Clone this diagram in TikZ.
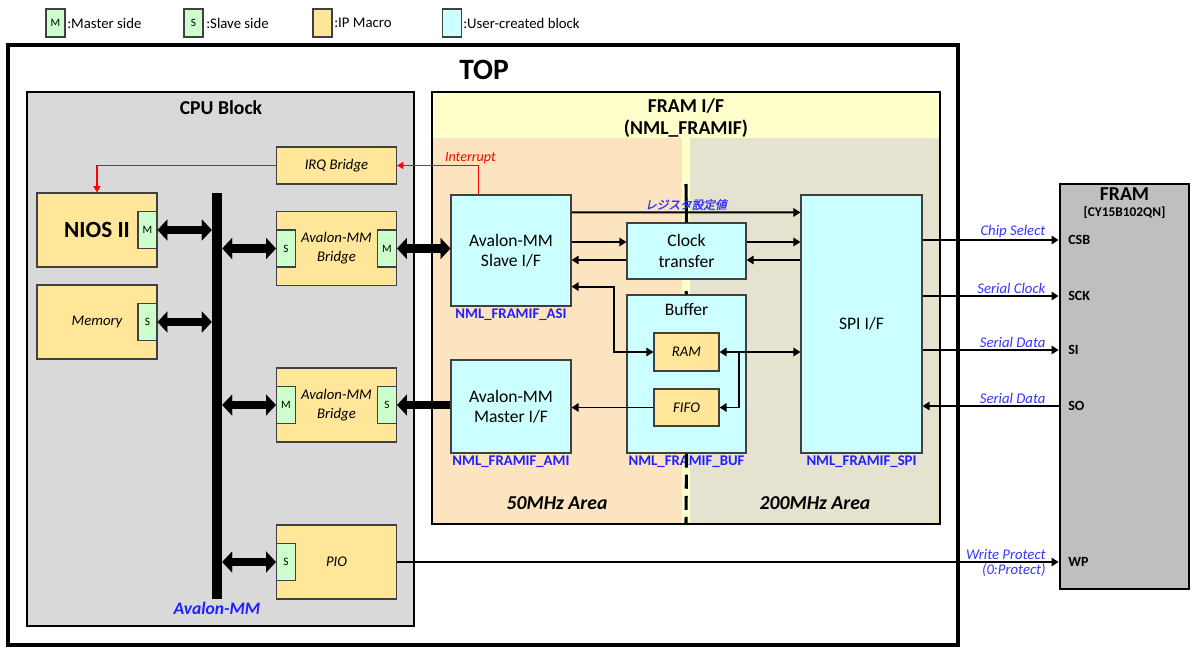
\documentclass[tikz,border=0pt]{standalone}
\usepackage{fontspec}
\setmainfont{Carlito}
\newfontfamily\cjk[FakeSlant=0.2,FakeBold=1.8]{Noto Sans CJK JP}
\usepackage{tikz}
\usetikzlibrary{arrows.meta}

\definecolor{ipcol}{HTML}{FFE699}
\definecolor{usercol}{HTML}{CCFFFF}
\definecolor{portcol}{HTML}{CCFFCC}
\definecolor{cpucol}{HTML}{D9D9D9}
\definecolor{framifcol}{HTML}{FFFFCC}
\definecolor{slowcol}{HTML}{FDE4C0}
\definecolor{fastcol}{HTML}{E5E2D0}
\definecolor{chipcol}{HTML}{BFBFBF}
\definecolor{namecol}{HTML}{1F1FFF}
\definecolor{sigcol}{HTML}{3535FF}
\definecolor{boxline}{HTML}{404040}
\newcommand{\fsz}[2]{\fontsize{#1}{#2}\selectfont}

\begin{document}
\begin{tikzpicture}[x=0.025cm,y=-0.025cm,>={Triangle[length=5pt,width=6pt]},
	ip block/.style={draw=boxline,line width=0.8pt,fill=ipcol,inner sep=0pt,font=\fsz{10.5}{13.5}\itshape,align=center},
	user block/.style={draw=boxline,line width=0.8pt,fill=usercol,inner sep=0pt,font=\fsz{12.5}{14.5},align=center},
	port/.style={draw=boxline,line width=0.8pt,fill=portcol,inner sep=0pt,minimum width=0.475cm,minimum height=0.925cm,font=\fsz{8}{9}},
	key text/.style={anchor=west,inner sep=0pt,font=\fsz{10.5}{12}},
	mod name/.style={anchor=north,inner sep=1.5pt,font=\fsz{10.5}{12}\bfseries,text=namecol},
	title/.style={align=center,font=\fsz{14}{15.6}\bfseries},
	area/.style={font=\fsz{14}{16}\bfseries\itshape},
	container/.style={draw=black,line width=1.8pt},
	divider/.style={line width=2.2pt},
	sig/.style={line width=1.4pt},
	sig label/.style={pos=1,xshift=-0.27cm,inner sep=1pt,font=\fsz{10.5}{12}\itshape,text=sigcol},
	bus arrow/.style={line width=6pt,{Triangle[length=7pt,width=15pt,line width=0.1pt]}-{Triangle[length=7pt,width=15pt,line width=0.1pt]}},
	bus line/.style={line width=6pt,-{Triangle[length=7pt,width=15pt,line width=0.1pt]}},
	irq/.style={red,line width=1pt,-{Triangle[length=4.5pt,width=5pt]}},
	pin/.style={anchor=west,inner sep=0pt,font=\fsz{10}{12}\bfseries}]

	\useasboundingbox (0,0) rectangle (1200,656);

	\node[port,minimum height=0.7cm] (keyM) at (55.5,23) {M};
	\node[key text] (keyMtxt) at (67,23) {:Master side};
	\node[port,minimum height=0.7cm] (keyS) at (193.5,23) {S};
	\node[key text] (keyStxt) at (206,23) {:Slave side};
	\node[ip block,minimum width=0.475cm,minimum height=0.7cm] (keyIP) at (322.5,23) {};
	\node[key text] (keyIPtxt) at (334,23) {:IP Macro};
	\node[user block,minimum width=0.475cm,minimum height=0.7cm] (keyUser) at (452,23) {};
	\node[key text] (keyUsertxt) at (463,23) {:User-created block};

	\draw[container,line width=2.8pt] (8,45) rectangle (958,645);
	\node[font=\fsz{21}{24}\bfseries] (top) at (484,70) {TOP};

	\draw[container,fill=cpucol] (27,92) rectangle (414,626);
	\node[title] (cpu) at (221,108) {CPU Block};

	\fill[framifcol] (432,92) rectangle (940,524);
	\fill[slowcol] (433,138) rectangle (682,523);
	\fill[fastcol] (690,138) rectangle (939,523);
	\draw[container] (432,92) rectangle (940,524);
	\node[title] (framif) at (686,118) {FRAM I/F\\(NML\_FRAMIF)};
	\node[area] (slow) at (557,503) {50MHz Area};
	\node[area] (fast) at (815,503) {200MHz Area};

	\node[ip block,minimum width=3cm,minimum height=0.925cm] (irqb) at (336.5,165.5) {IRQ Bridge};
	\node[ip block,minimum width=3cm,minimum height=1.85cm,font=\fsz{16.5}{18}\bfseries] (nios) at (97,230) {NIOS II};
	\node[port,anchor=east] (niosM) at (nios.east) {M};
	\node[ip block,minimum width=3cm,minimum height=1.85cm] (mem) at (97,322) {Memory};
	\node[port,anchor=east] (memS) at (mem.east) {S};
	\node[ip block,minimum width=3cm,minimum height=1.85cm] (br1) at (336.5,248.5) {Avalon-MM\\Bridge};
	\node[port,anchor=west] (br1S) at (br1.west) {S};
	\node[port,anchor=east] (br1M) at (br1.east) {M};
	\node[ip block,minimum width=3cm,minimum height=1.85cm] (br2) at (336.5,405) {Avalon-MM\\Bridge};
	\node[port,anchor=west] (br2M) at (br2.west) {M};
	\node[port,anchor=east] (br2S) at (br2.east) {S};
	\node[ip block,minimum width=3cm,minimum height=1.85cm] (pio) at (336.5,562) {PIO};
	\node[port,anchor=west] (pioS) at (pio.west) {S};
	\node[fill=black,inner sep=0pt,minimum width=0.25cm,minimum height=10.15cm] (bus) at (217,396) {};
	\node[anchor=north,inner sep=2pt,font=\fsz{12.5}{14}\bfseries\itshape,text=namecol] (buslbl) at (bus.south) {Avalon-MM};

	\node[user block,minimum width=3cm,minimum height=2.775cm] (asi) at (511,250.5) {Avalon-MM\\Slave I/F};
	\node[mod name] (asiname) at (asi.south) {NML\_FRAMIF\_ASI};
	\node[user block,minimum width=3cm,minimum height=2.325cm] (ami) at (511,406.5) {Avalon-MM\\Master I/F};
	\node[mod name] (aminame) at (ami.south) {NML\_FRAMIF\_AMI};
	\node[user block,minimum width=2.975cm,minimum height=1.4cm] (clk) at (686.5,251) {Clock\\transfer};
	\node[user block,minimum width=2.975cm,minimum height=3.95cm] (buf) at (686.5,374) {};
	\node[font=\fsz{12.5}{14.5}] (buftitle) at ([yshift=-0.375cm]buf.north) {Buffer};
	\node[mod name] (bufname) at (buf.south) {NML\_FRAMIF\_BUF};
	\node[ip block,minimum width=1.625cm,minimum height=0.95cm] (ram) at (686.5,352) {RAM};
	\node[ip block,minimum width=1.625cm,minimum height=0.925cm] (fifo) at (686.5,407.5) {FIFO};
	\node[user block,minimum width=3.025cm,minimum height=6.45cm] (spi) at (861.5,324) {SPI I/F};
	\node[mod name] (spiname) at (spi.south) {NML\_FRAMIF\_SPI};

	\draw[divider] (686,184) -- (clk.north);
	\draw[divider] (686,291) -- (buf.north);
	\draw[divider,dash pattern=on 10pt off 5pt] (buf.south) -- (686,524);

	\node[draw=black,line width=2pt,fill=chipcol,minimum width=3.225cm,minimum height=10.125cm] (fram) at (1124.5,386.5) {};
	\node[title] (framtitle) at ([yshift=-0.3cm]fram.north) {FRAM};
	\node[font=\fsz{9.5}{11}\bfseries] (framtype) at ([yshift=-0.75cm]fram.north) {[CY15B102QN]};
	\node[pin] (csb) at (1068,240) {CSB};
	\node[pin] (sck) at (1068,296) {SCK};
	\node[pin] (si) at (1068,350) {SI};
	\node[pin] (so) at (1068,406) {SO};
	\node[pin] (wp) at (1068,562) {WP};

	\draw[bus arrow] (niosM.east) -- (bus.west |- niosM.east);
	\draw[bus arrow] (memS.east) -- (bus.west |- memS.east);
	\draw[bus arrow] (bus.east |- br1S.west) -- (br1S.west);
	\draw[bus arrow] (bus.east |- br2M.west) -- (br2M.west);
	\draw[bus arrow] (bus.east |- pioS.west) -- (pioS.west);
	\draw[bus arrow] (br1M.east) -- (asi.west |- br1M.east);
	\draw[bus line] (ami.west |- br2S.east) -- (br2S.east);

	\draw[irq] (asi.north west) ++(28,0) |- (irqb.east)
		node[pos=0.5,anchor=south,xshift=-0.2cm,inner sep=1pt,font=\fsz{10}{12}\itshape,text=red] {Interrupt};
	\draw[irq] (irqb.west) -| (nios.north);

	\coordinate (clkfw) at ([yshift=0.225cm]clk.west);
	\coordinate (clkbw) at ([yshift=-0.225cm]clk.west);
	\coordinate (asiram) at ([yshift=0.5cm]asi.south east);
	\draw[sig,->] ([yshift=-0.45cm]asi.north east) -- ([yshift=-0.45cm]spi.north west)
		node[midway,above,inner sep=1pt,font=\cjk\fsz{8.3}{10},text=sigcol] {レジスタ設定値};
	\draw[sig,->] (asi.east |- clkfw) -- (clkfw);
	\draw[sig,<-] (asi.east |- clkbw) -- (clkbw);
	\draw[sig,->] (clk.east |- clkfw) -- (spi.west |- clkfw);
	\draw[sig,<-] (clk.east |- clkbw) -- (spi.west |- clkbw);
	\draw[sig,<->] (asiram) -- ++(42,0) |- (ram.west);
	\draw[sig,<->] (ram.east) -- (spi.west |- ram.east);
	\draw[sig,->] (ram.east) ++(19,0) |- (fifo.east);
	\draw[sig,->] (fifo.west) -- (ami.east |- fifo.west);

	\draw[sig,->] (spi.east |- csb) -- (fram.west |- csb) node[sig label,anchor=south east] {Chip Select};
	\draw[sig,->] (spi.east |- sck) -- (fram.west |- sck) node[sig label,anchor=south east] {Serial Clock};
	\draw[sig,->] (spi.east |- si) -- (fram.west |- si) node[sig label,anchor=south east] {Serial Data};
	\draw[sig,<-] (spi.east |- so) -- (fram.west |- so) node[sig label,anchor=south east] {Serial Data};
	\draw[line width=1.1pt,->] (pio.east) -- (fram.west |- wp)
		node[sig label,anchor=south east] {Write Protect}
		node[sig label,anchor=north east] {(0:Protect)};

\end{tikzpicture}
\end{document}
